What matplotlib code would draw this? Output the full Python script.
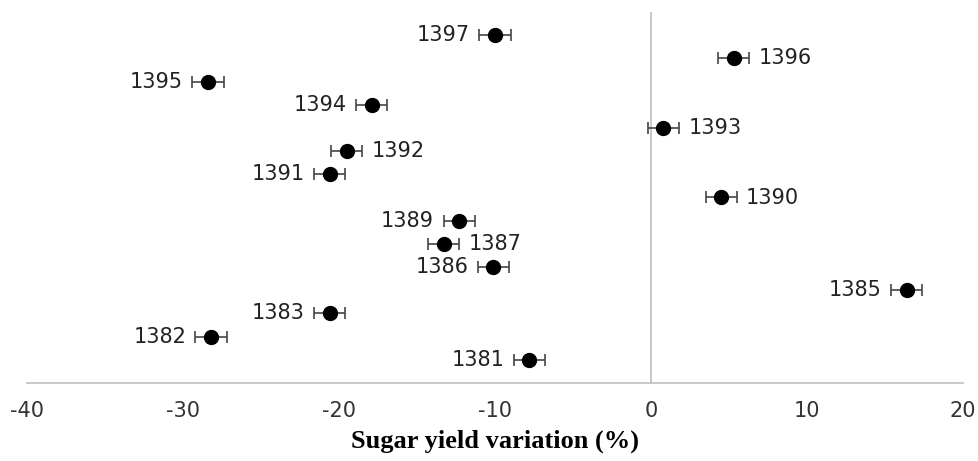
import matplotlib
matplotlib.use("Agg")
import matplotlib.pyplot as plt

years = ["1397", "1396", "1395", "1394", "1393", "1392", "1391", "1390",
         "1389", "1387", "1386", "1385", "1383", "1382", "1381"]
values = [-10.0, 5.3, -28.4, -17.9, 0.8, -19.5, -20.6, 4.5,
          -12.3, -13.3, -10.1, 16.4, -20.6, -28.2, -7.8]
errors = [1.0, 1.0, 1.0, 1.0, 1.0, 1.0, 1.0, 1.0,
          1.0, 1.0, 1.0, 1.0, 1.0, 1.0, 1.0]
label_side = ["L", "R", "L", "L", "R", "R", "L", "R",
              "L", "R", "L", "L", "L", "L", "L"]
xticks = [-40, -30, -20, -10, 0, 10, 20]

fig = plt.figure(figsize=(9.79, 4.61), dpi=100)
ax = fig.add_axes([27/979, (461-383)/461, (963-27)/979, (383-12)/461])

n = len(years)
ypos = list(range(n, 0, -1))

ax.errorbar(values, ypos, xerr=errors, fmt="o", color="black", ms=10,
            ecolor="#444444", elinewidth=1.2, capsize=4, capthick=1.2, zorder=3)

for v, y, e, lab, side in zip(values, ypos, errors, years, label_side):
    if side == "L":
        ax.text(v - e - 0.6, y, lab, ha="right", va="center", fontsize=15,
                color="#222222")
    else:
        ax.text(v + e + 0.6, y, lab, ha="left", va="center", fontsize=15,
                color="#222222")

ax.set_xlim(-40, 20)
ax.set_ylim(0, 16)
for s in ["top", "right", "left"]:
    ax.spines[s].set_visible(False)
ax.spines["bottom"].set_color("#bdbdbd")
ax.spines["bottom"].set_linewidth(1.2)
ax.axvline(0, color="#bdbdbd", lw=1.2, zorder=1)
ax.set_yticks([])
ax.set_xticks(xticks)
ax.set_xticklabels([str(t) for t in xticks], fontsize=15, color="#333333")
ax.tick_params(axis="x", length=0, pad=13)
ax.set_xlabel("Sugar yield variation (%)", fontsize=19, fontweight="bold",
              family=["Liberation Serif", "DejaVu Serif"], labelpad=6)

fig.savefig("out.png", dpi=100)
